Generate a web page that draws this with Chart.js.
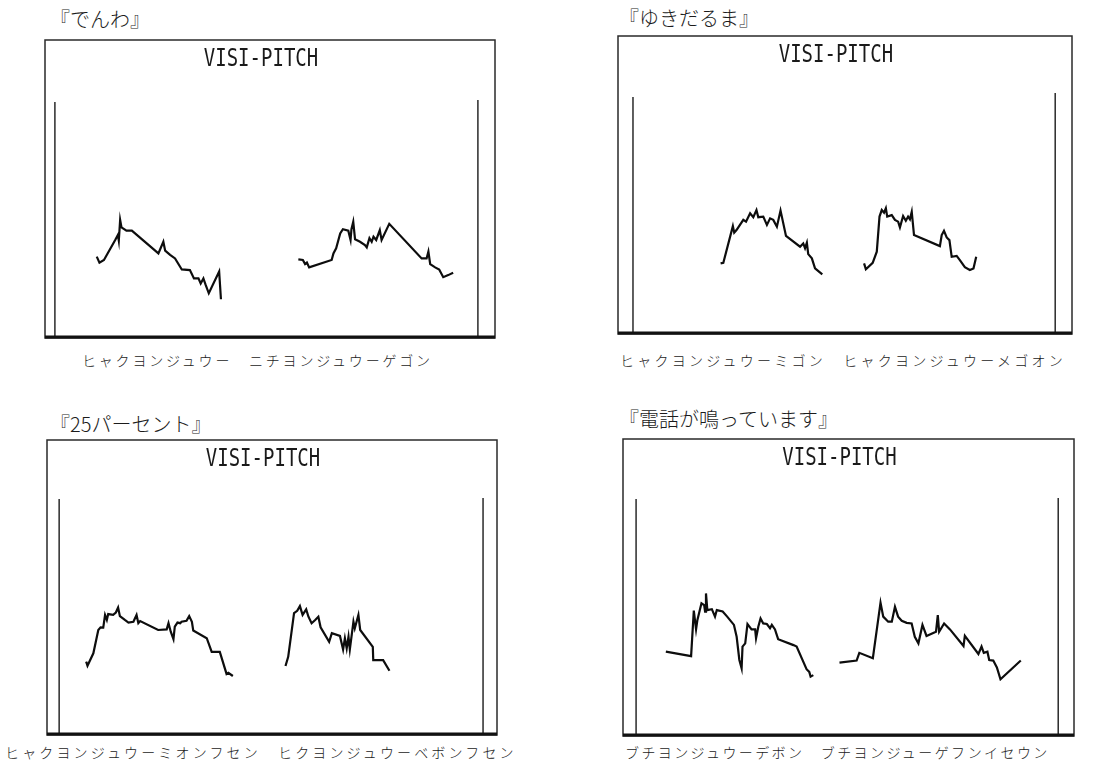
<!DOCTYPE html>
<html lang="ja">
<head>
<meta charset="utf-8">
<title>VISI-PITCH</title>
<script src="https://cdn.jsdelivr.net/npm/chart.js@4/dist/chart.umd.min.js"></script>
<style>
  html, body { margin: 0; padding: 0; background: #fff; }
  body { width: 1099px; height: 766px; position: relative; overflow: hidden; }
  canvas { position: absolute; }
  .head { position: absolute; font-family: "Noto Sans CJK JP", sans-serif; font-weight: 300; font-size: 20px; line-height: 24px; color: #1b1b1b; white-space: nowrap; }
  .cap { position: absolute; font-family: "Noto Sans CJK JP", sans-serif; font-weight: 300; font-size: 14px; line-height: 20px; color: #1b1b1b; white-space: nowrap; }
</style>
</head>
<body>
<div class="head" style="left:50px; top:7px;">『でんわ』</div>
<div class="head" style="left:619px; top:6px;">『ゆきだるま』</div>
<div class="head" style="left:50px; top:412px;">『25パーセント』</div>
<div class="head" style="left:619px; top:407px;">『電話が鳴っています』</div>

<canvas id="p1" width="458" height="306" style="left:41px; top:36px;"></canvas>
<canvas id="p2" width="462" height="306" style="left:614px; top:32px;"></canvas>
<canvas id="p3" width="458" height="303" style="left:43px; top:436px;"></canvas>
<canvas id="p4" width="459" height="305" style="left:619px; top:435px;"></canvas>

<div class="cap" style="left:82px; top:350px; letter-spacing:2.8px;">ヒャクヨンジュウー　ニチヨンジュウーゲゴン</div>
<div class="cap" style="left:620px; top:350px; letter-spacing:3.25px;">ヒャクヨンジュウーミゴン　ヒャクヨンジュウーメゴオン</div>
<div class="cap" style="left:5px; top:742px; letter-spacing:3.15px;">ヒャクヨンジュウーミオンフセン　ヒクヨンジュウーベボンフセン</div>
<div class="cap" style="left:625px; top:742px; letter-spacing:2.4px;">ブチヨンジュウーデボン　ブチヨンジューゲフンイセウン</div>

<script>
// Time axis: percent of the display sweep; pitch axis: percent of the display height.

// 『でんわ』
const denwaTime1  = [11.5,12.1,13.1,15.6,16.2,16.4,16.7,17.0,18.1,19.3,25.2,26.3,26.7,27.8,28.9,30.4,32.2,33.1,34.1,34.6,35.2,35.7,36.4,38.7,39.1];
const denwaPitch1 = [27.3,25.3,26.2,32.9,34.6,32.7,39.6,37.1,36.0,36.0,28.4,32.3,29.3,27.9,26.7,23.0,22.8,20.0,20.0,18.3,20.0,17.8,15.0,22.3,13.0];
const denwaTime2  = [56.3,57.3,57.8,58.2,58.7,63.7,64.1,64.7,65.6,66.2,67.4,67.9,68.1,68.5,68.9,70.0,71.1,71.5,72.1,72.6,73.0,73.6,74.4,74.8,76.5,83.7,84.8,85.2,85.6,86.7,87.6,88.5,89.6,90.7];
const denwaPitch2 = [26.4,26.2,24.8,25.3,23.7,26.2,28.4,30.1,35.1,36.5,36.0,32.9,36.5,39.0,33.1,32.3,31.2,30.4,33.5,32.3,34.0,32.9,36.2,32.9,38.3,26.7,26.7,29.0,24.8,23.7,23.0,20.4,21.1,21.9];
const denwaCursorX   = [2.2, 96.2];
const denwaCursorTop = [79.2, 79.9];

// 『ゆきだるま』
const yukiTime1  = [22.6,23.2,25.3,25.6,26.1,27.6,28.2,29.1,29.8,30.5,30.9,32.0,32.8,33.5,34.2,35.0,35.8,37.0,40.1,40.8,41.2,41.6,41.9,42.7,43.4,43.8,45.0];
const yukiPitch1 = [23.7,23.9,36.2,34.0,34.9,38.3,37.7,40.5,39.2,41.6,39.2,39.4,36.6,38.8,38.3,36.0,41.4,32.9,29.3,30.4,28.8,30.6,26.8,25.4,22.0,21.5,20.0];
const yukiTime2  = [54.2,54.6,56.1,57.0,57.6,58.1,58.6,59.0,59.3,60.3,61.0,61.7,62.1,62.8,63.4,63.9,64.3,64.7,65.2,70.9,71.3,71.8,72.4,73.0,73.5,74.6,75.3,76.4,77.5,78.3,78.9];
const yukiPitch2 = [23.7,21.7,23.9,27.6,39.4,41.6,40.7,42.2,39.4,39.9,38.3,37.7,35.8,39.6,38.0,39.4,38.5,41.0,33.2,29.5,33.2,34.6,32.4,31.5,25.9,26.2,24.8,22.4,21.5,22.0,25.9];
const yukiCursorX   = [3.3, 96.3];
const yukiCursorTop = [79.5, 80.9];

// 『25パーセント』
const pctTime1  = [8.7,9.0,10.3,11.4,11.9,12.5,12.9,13.3,13.6,14.7,15.3,15.8,16.2,17.3,18.1,19.2,19.9,20.3,20.7,24.7,26.6,27.0,27.5,28.1,28.4,29.0,29.6,29.9,31.0,31.6,32.2,32.5,35.5,36.6,38.4,39.9,40.3,41.3];
const pctPitch1 = [24.9,23.5,27.7,35.6,36.5,36.4,40.7,39.0,41.0,40.7,41.5,43.2,40.3,39.0,38.1,38.4,40.7,37.9,38.6,35.6,35.8,37.9,35.0,32.5,36.7,38.1,37.9,38.4,38.7,40.3,38.4,35.4,32.8,28.2,28.2,20.7,21.1,20.0];
const pctTime2  = [53.0,53.6,54.9,55.6,56.2,56.8,57.6,58.1,58.8,59.6,60.3,60.8,62.7,63.3,65.1,65.8,66.2,66.6,67.0,67.3,68.1,68.4,69.2,69.6,72.4,72.5,74.7,76.1];
const pctPitch2 = [23.4,26.5,41.3,42.1,43.7,40.7,42.6,40.1,37.9,39.0,40.1,36.5,31.6,34.5,33.6,29.0,32.8,29.4,33.3,29.0,38.4,36.2,40.7,35.6,29.9,25.4,25.4,21.8];
const pctCursorX   = [2.7, 96.9];
const pctCursorTop = [80.0, 80.3];

// 『電話が鳴っています』
const telTime1  = [9.5,15.1,15.7,16.2,16.5,17.4,18.0,18.2,18.4,18.7,19.7,20.4,20.8,22.1,23.1,24.6,25.2,25.8,26.3,26.5,27.1,27.6,28.5,29.3,29.5,30.0,30.5,31.1,31.9,32.6,33.0,33.7,34.4,37.8,38.5,40.7,41.3,41.6,42.2];
const telPitch1 = [28.4,26.9,42.2,35.9,39.1,44.7,44.1,41.9,48.0,42.4,42.7,40.2,42.4,41.9,40.2,37.4,33.4,25.6,22.8,30.1,31.2,37.7,35.9,35.9,32.9,36.8,39.6,37.9,37.7,36.3,37.4,35.9,32.6,30.6,30.1,22.5,21.6,20.0,20.5];
const telTime2  = [48.0,51.8,52.4,55.4,57.1,57.7,58.8,59.6,60.3,61.0,61.8,62.9,64.0,64.7,65.5,66.4,67.3,69.4,69.8,70.1,71.2,72.5,75.5,75.8,78.8,79.5,80.0,80.8,81.2,82.1,82.9,83.7,88.2];
const telPitch2 = [24.7,25.4,28.0,26.2,44.9,40.2,38.5,38.5,43.5,40.2,38.8,38.1,37.9,33.4,31.2,37.4,33.7,35.1,40.7,35.1,37.9,35.9,30.3,33.7,27.6,30.1,28.0,28.4,25.6,25.4,23.1,19.1,25.4];
const telCursorX   = [2.9, 96.5];
const telCursorTop = [79.8, 80.1];

const screenTitle = 'VISI-PITCH';
const titlePos = { x: 48, y: 93.3 };

function toPoints(xs, ys) {
  return xs.map((x, i) => ({ x: x, y: ys[i] }));
}

// Frame of the display, heavy baseline and the on-screen title
const screenFrame = {
  id: 'screenFrame',
  afterDraw(chart) {
    const { ctx, chartArea: a, scales } = chart;
    ctx.save();
    ctx.strokeStyle = '#2a2a2a';
    ctx.lineWidth = 1.5;
    ctx.strokeRect(a.left, a.top, a.right - a.left, a.bottom - a.top);
    ctx.strokeStyle = '#111';
    ctx.lineWidth = 3;
    ctx.beginPath();
    ctx.moveTo(a.left, a.bottom - 1);
    ctx.lineTo(a.right, a.bottom - 1);
    ctx.stroke();
    const tx = scales.x.getPixelForValue(titlePos.x);
    const ty = scales.y.getPixelForValue(titlePos.y);
    ctx.translate(tx, ty);
    ctx.scale(1, 1.3);
    ctx.font = '19px "DejaVu Sans Mono", monospace';
    ctx.fillStyle = '#1a1a1a';
    ctx.textAlign = 'center';
    ctx.textBaseline = 'middle';
    ctx.fillText(screenTitle, 0, 0);
    ctx.restore();
  }
};

function makePanel(id, segments, cursorX, cursorTop) {
  const datasets = [];
  cursorX.forEach((cx, i) => {
    datasets.push({
      data: [{ x: cx, y: 0 }, { x: cx, y: cursorTop[i] }],
      borderColor: '#2a2a2a',
      borderWidth: 1.5
    });
  });
  segments.forEach(([t, p]) => {
    datasets.push({
      data: toPoints(t, p),
      borderColor: '#0d0d0d',
      borderWidth: 2.2
    });
  });
  return new Chart(document.getElementById(id), {
    type: 'line',
    data: { datasets },
    options: {
      responsive: false,
      animation: false,
      layout: { padding: 4 },
      elements: {
        point: { radius: 0 },
        line: { tension: 0, borderJoinStyle: 'miter', borderCapStyle: 'butt' }
      },
      scales: {
        x: { type: 'linear', min: 0, max: 100, display: false },
        y: { type: 'linear', min: 0, max: 100, display: false }
      },
      plugins: { legend: { display: false }, tooltip: { enabled: false } }
    },
    plugins: [screenFrame]
  });
}

makePanel('p1', [[denwaTime1, denwaPitch1], [denwaTime2, denwaPitch2]], denwaCursorX, denwaCursorTop);
makePanel('p2', [[yukiTime1, yukiPitch1], [yukiTime2, yukiPitch2]], yukiCursorX, yukiCursorTop);
makePanel('p3', [[pctTime1, pctPitch1], [pctTime2, pctPitch2]], pctCursorX, pctCursorTop);
makePanel('p4', [[telTime1, telPitch1], [telTime2, telPitch2]], telCursorX, telCursorTop);
</script>
</body>
</html>
